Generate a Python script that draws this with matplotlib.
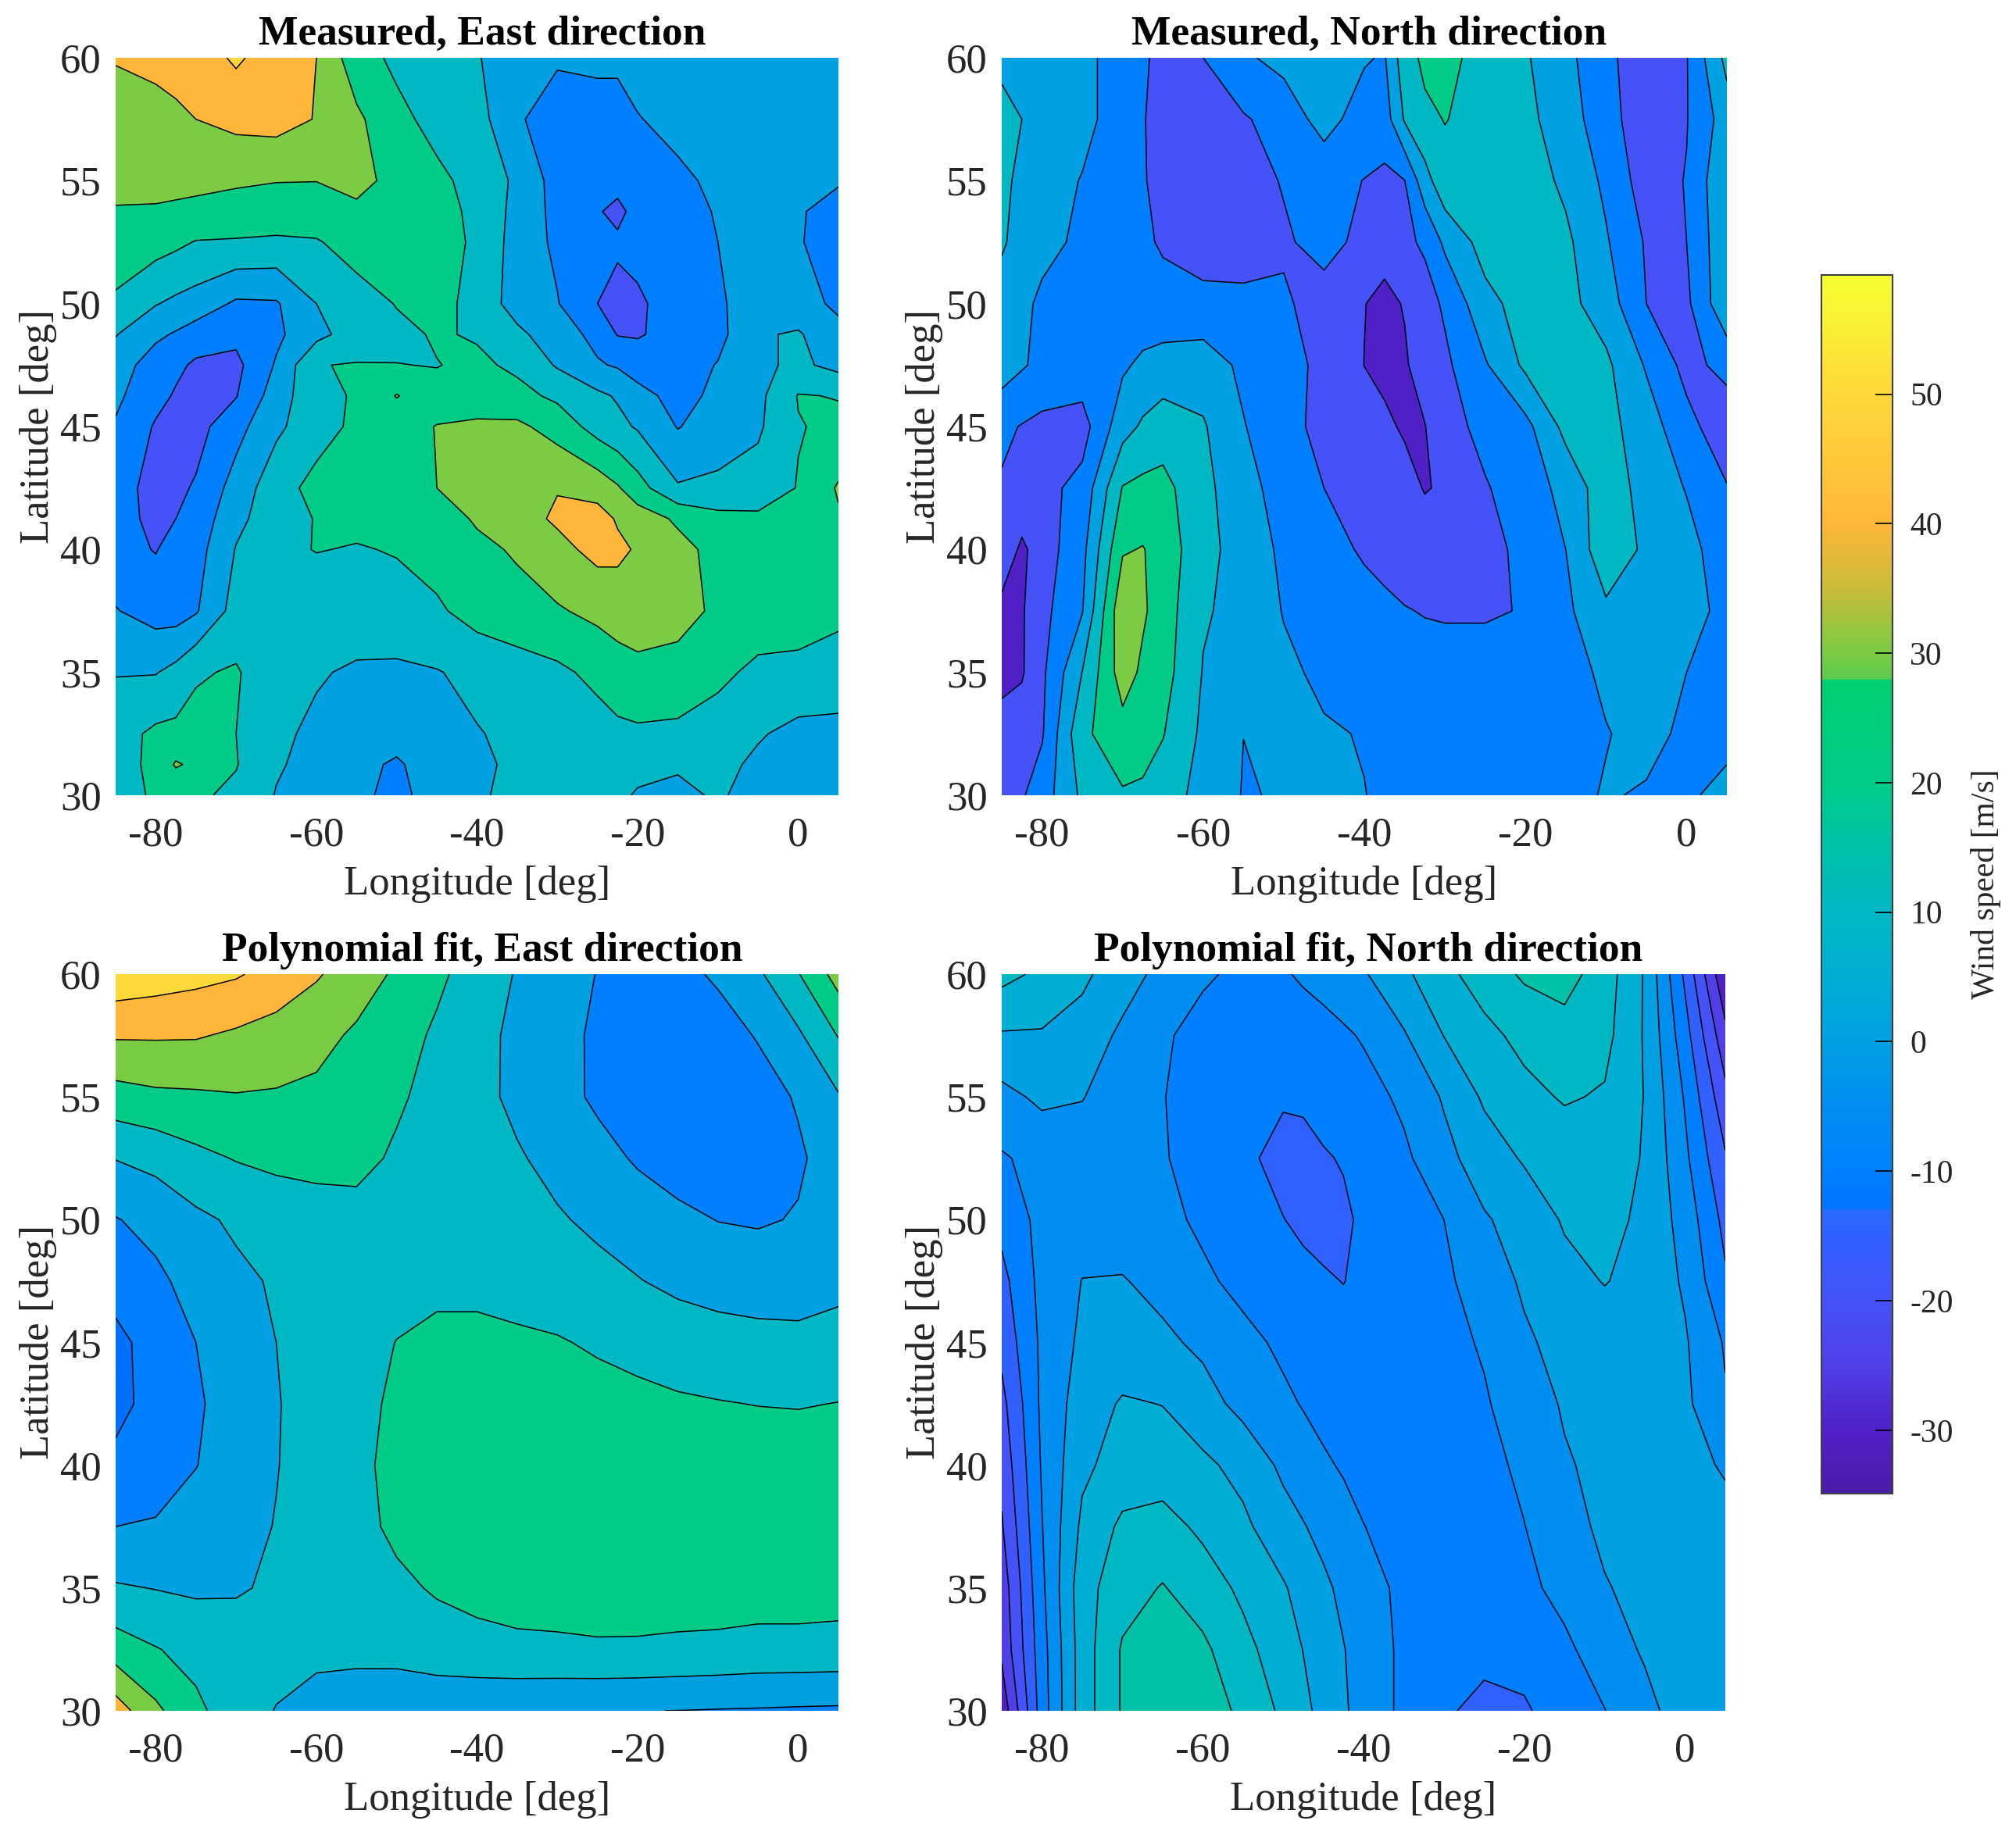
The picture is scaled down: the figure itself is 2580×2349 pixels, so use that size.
#!/usr/bin/env python3
"""Wind speed maps: measured and polynomial fit, East and North directions."""

from __future__ import annotations

import matplotlib

matplotlib.use("Agg")

import matplotlib.pyplot as plt
from matplotlib.cm import ScalarMappable
from matplotlib.colors import LinearSegmentedColormap, Normalize


WIDTH_PX = 2580
HEIGHT_PX = 2349
TEXT = "#262626"

LON_TICKS = [-80, -60, -40, -20, 0]
LAT_TICKS = [30, 35, 40, 45, 50, 55, 60]
CBAR_TICKS = [-30, -20, -10, 0, 10, 20, 30, 40, 50]
CBAR_MIN = -34.9
CBAR_MAX = 59.2

LEVELS_10 = [-35, -25, -15, -5, 5, 15, 25, 35, 45, 55]
LEVELS_5 = [-37.5, -32.5, -27.5, -22.5, -17.5, -12.5, -7.5, -2.5, 2.5, 7.5, 12.5, 17.5]

# colours, from the bottom up
CBAR_STOPS = [
    (-34.9, "#4A1CA8"), (-30, "#5020C8"), (-25, "#5040E8"), (-20, "#4452F8"),
    (-15, "#3060FF"), (-13.1, "#2A6CFF"), (-12.9, "#0074FF"), (-10, "#0080FF"),
    (-5, "#008FF0"), (0, "#00A0E2"), (5, "#00AED4"), (10, "#00B8C4"),
    (15, "#00C0A8"), (20, "#00CC88"), (27.9, "#00CF70"), (28.1, "#5CCB50"),
    (30, "#7ACB44"), (35, "#C8BC3A"), (40, "#FFB63A"), (45, "#FFC83A"),
    (50, "#FFD83A"), (59.2, "#F5FF30"),
]

# the fit's East panel stays blue inside its lowest contour
POLY_EAST_BANDS = ["#5020C8", "#0070FF", "#0080FF", "#00A0E2", "#00B8C4", "#00CC88", "#7ACB44", "#FFB63A", "#FFD83A"]

LONS_5 = [-85, -80, -75, -70, -65, -60, -55, -50, -45, -40, -35, -30, -25, -20, -15, -10, -5, 0, 5]
LATS_25 = [60, 57.5, 55, 52.5, 50, 47.5, 45, 42.5, 40, 37.5, 35, 32.5, 30]

EAST_LONS = [-85, -80, -77.5, -75, -70, -65, -60, -55, -50, -45, -40, -35, -30, -25, -22.5, -20, -15, -10, -5, 0, 5]
EAST_LATS = [60, 57.5, 55, 53.75, 52.5, 50, 48.75, 47.5, 46.25, 45, 42.5, 41.25, 40, 37.5, 35, 32.5, 31.25, 30]
MEASURED_EAST = [
    [36, 38, 39, 40, 46.5, 40, 35, 19, 13, 10, 6, -3.5, -4, -2, -2, -1, -1, -1, -1, -1, -1],
    [28, 31, 33, 35, 38, 39, 34.5, 27, 17.5, 12, 9, -4, -9, -11, -11, -5.5, -2, -1, -1, -1, -1],
    [29, 28, 27.5, 27, 26, 25.2, 25.1, 28, 22, 17, 12, 3, -9, -12, -13, -12, -7, -3, -1, -2, -4.5],
    [24, 24, 23.5, 23, 22, 22, 22, 23, 22, 19, 12.5, 2, -8, -14.5, -16.5, -13, -10, -4, -1, -4.5, -7],
    [22, 19, 17, 14.5, 14, 13, 14, 20, 21, 20, 13, 1, -7, -13, -14, -13, -11, -5, -1, -4.5, -8],
    [13, 5.5, 3, 1, -6.5, -6, 5, 10, 15.5, 19, 11, 1, -4.5, -15, -17, -16, -12, -7, 2, -1, -7],
    [5.5, -3, -6, -10, -12.5, -7, 2, 10, 12.5, 16, 14, 7, 0, -8, -15.5, -16, -11, -8, 4, 6, -2],
    [0, -10, -13, -16.5, -17.5, -4, 14.7, 15.5, 15.2, 14.7, 17, 13, 4, -4, -6, -9, -9.5, -4.5, 3, 7, 2],
    [-3, -12, -16, -19, -15.5, 0, 12, 16, 25.5, 18, 19, 18, 13, 7, 4, -2, -8, -3, 2.5, 15.5, 14.6],
    [-6, -16, -17.5, -18.5, -8.5, 3, 11, 17, 19, 25.5, 27, 27, 21, 11, 7.5, 4, -5.5, 0, 3.5, 14.5, 17],
    [-12, -17.5, -17, -14, -1, 11, 18, 20, 22, 25, 29, 32, 34.5, 31, 26, 19, 6, 7, 9, 15.5, 26],
    [-12, -17, -15, -11.5, 2.5, 10.5, 15.5, 17, 18.5, 21, 26, 31, 36.5, 39, 34, 30, 23.5, 18, 17, 17.5, 24],
    [-11.5, -15.5, -11, -9, 5.5, 13, 15.3, 14.5, 15.5, 19, 23, 26, 32, 38, 37, 34, 28, 22, 19, 18.5, 22],
    [-4.5, -9, -9.5, -6, 9, 9, 10, 11, 12, 13.5, 19, 22, 24, 27.5, 30, 31, 29, 23, 20, 18.5, 16],
    [4.5, 4.5, 8, 14, 16, 8, 6, 3.5, 3, 4.5, 7.5, 10, 13, 17.5, 20, 22, 21, 17, 13, 13, 13],
    [11, 17, 17.5, 18, 15, 7, 3, -0.5, -2, 1, 4.5, 7, 9, 11, 13, 13.5, 13, 11, 6, 2, 1],
    [10, 18, 26, 23, 15.5, 6, 2, -3, -6, -1, 3, 7, 8, 8, 7, 6.5, 6, 8, 3, 0, -1],
    [9, 17, 17, 16.5, 13, 4.5, 1, -3, -7.5, -1, 3.5, 8, 10, 8, 6, 4.5, 3, 6, 2, -0.5, -1],
]

NORTH_LONS = [-85, -82.5, -80, -75, -70, -67.5, -65, -60, -55, -50, -45, -40, -37.5, -35, -32.5, -30, -25, -20, -15, -10, -5, 0, 5]
MEASURED_NORTH = [
    [2, 1.5, 1, -2, -10, -14, -17, -15, -6.5, -2, -1, -4, -6, 11, 17, 18, 11, 6, -2, -13, -20, -15.5, 8],
    [9, 5, 1, -2, -10, -14.5, -18, -19, -16, -11, -1, -10, -10, 6, 13, 15.3, 12, 7, 1, -12.5, -19, -15.5, 0],
    [7, 3, -0.5, -5.5, -11, -14.5, -17, -19, -18, -14.5, -12, -15.2, -17, -15.2, 1, 12, 11, 10, 3, -7, -20, -14.5, 4.5],
    [6, 2, -2, -7, -11, -13.5, -16, -20, -20, -16, -12.5, -17, -22, -17, -13.5, -3, 9, 11, 7, -4, -16, -15, 3],
    [1.5, -2.5, -7, -10, -11, -11.5, -12, -12, -12.5, -14, -18, -24.8, -27, -24.5, -19, -13.5, 2, 9, 8, 0, -15, -17, 3],
    [0, -4, -7.5, -9, -6.5, -3, -1, 0, -7, -12, -17, -25.1, -27, -26, -21, -17, -6, 7, 10, 7, -6, -18, -12],
    [-13, -15.5, -17.5, -19, 1, 6.5, 10, 6, -4.5, -11.5, -18, -21, -23.5, -26, -25.3, -19, -12, -8, 8, 8, 0, -12, -21],
    [-16, -17, -18, -12, 15.5, 17.5, 18, 8, -2, -8.5, -15, -19, -20.5, -22, -25.5, -24, -15.8, -10, -2, 11, 1, -5.5, -14.5],
    [-18, -27, -20, -8, 24, 25.5, 21, 8, 1, -7, -12, -16, -18, -20, -20.5, -21, -20, -11, -5, 12, 3, -2, -10],
    [-28, -26, -18, -5.5, 33, 26.5, 20, 6, 2, -5.5, -9, -12, -13, -14.5, -15.5, -16, -16, -14.5, -7, 3, 3, -1, -8],
    [-28, -26, -17, 5.2, 30, 23, 19, 4.5, 0, -3, -7, -10, -10.5, -11, -11, -11, -11, -11, -9, -3, 0, -5, -9],
    [-21, -20, -16, 13, 21, 20, 15.5, 3, -4.95, -3, -4, -5.5, -7, -8, -8.5, -9, -9, -9, -8, -5.5, -2, -7, -9],
    [-19, -16, -10, 7, 14, 13, 10, 1.5, -5.5, -4.4, -3, -4.8, -6.5, -8, -8.5, -9, -9, -9, -8, -4.2, -6, -7, -1],
]

POLY_EAST = [
    [52, 50, 48, 46, 41.5, 36, 30, 23.5, 17, 10.5, 4.3, -0.5, -5.3, -8, -7, -4, 3.5, 14.5, 29],
    [36, 36, 35.8, 33.5, 31, 28, 23.5, 19, 13.5, 8.5, 2.5, -2, -6.5, -9.5, -10, -8, -4.5, 3.5, 15.5],
    [21, 23, 23.5, 24.4, 24, 23, 20.5, 16.5, 11.5, 8, 2.7, -1.8, -6.5, -9.5, -10.5, -10, -8, -4.3, 4.2],
    [5.3, 8, 12.5, 15.5, 17.5, 18.5, 18, 13.5, 11, 8.5, 6, 2, -2, -6, -9, -10.5, -10, -6, -1.5],
    [-5.5, -2, 3, 6.5, 8.5, 10, 11.5, 12, 11.5, 10.5, 8.5, 6, 3, -0.5, -3, -5.2, -5.8, -4.5, -1.5],
    [-12, -7, -1.5, 3, 6, 8, 10, 11.5, 12.5, 12.5, 11.5, 10, 8, 5.5, 2.5, 0.5, -0.5, -0.5, 2.5],
    [-17, -12, -5, 1, 5, 8, 11.5, 15.2, 17.5, 17.5, 16.5, 15.7, 13.8, 12.5, 11, 9.5, 8.5, 8, 8.5],
    [-17.5, -12, -6.5, 0, 4.5, 8.5, 12.5, 16.5, 19, 20, 20, 19.5, 18.5, 17, 16, 15.4, 14.8, 14.5, 15.2],
    [-13, -10.5, -5.3, 0.5, 4.7, 8.5, 12.5, 18, 20.5, 22, 22.5, 22.5, 22, 21.5, 21, 20.5, 20, 20, 20],
    [-5, -4, 0, 2.5, 5.3, 9, 12, 17, 20, 22, 23, 23, 23, 23, 22.5, 22, 21.5, 21, 20.5],
    [6, 4.7, 3.5, 4, 6.5, 9, 11, 13, 16, 18, 19.5, 20, 20.5, 20.5, 20, 20, 19.5, 19.5, 19],
    [20, 15.5, 12, 10, 8.5, 7.5, 7.5, 8, 10.5, 11.8, 12.7, 13, 13.6, 13.5, 13, 12.6, 11.8, 11.8, 11.5],
    [40, 27, 17, 10, 4.6, 1, -0.5, -1.5, -2.5, -3, -3.5, -4, -4.5, -4.8, -5.1, -5.5, -5.8, -6.2, -6.5],
]

POLY_NORTH_LONS = [-85, -80, -75, -70, -65, -60, -55, -50, -47.5, -45, -42.5, -40, -35, -30, -25, -20, -15, -10, -5, 0, 5]
POLY_NORTH = [
    [9, 6.5, 3.5, -0.2, -4, -6.5, -9, -8, -6.8, -5.5, -4.2, -3, 1.5, 6, 10, 13.2, 14.5, 10, 2, -13.5, -32],
    [2, 2, 0.5, -3.5, -6.5, -10, -11, -10.5, -10, -9.5, -8.3, -7, -3, 2.6, 6, 9, 10.5, 9, 2, -10.5, -26],
    [-4, -1.5, -2.3, -5, -7.2, -11, -12, -12, -11.5, -10.5, -10, -9.5, -6.5, -2, 3.2, 6, 8, 7, 2.3, -8, -21],
    [-8, -6, -5, -5.5, -7, -10, -11.5, -14, -14.5, -13, -12.1, -11, -8.5, -4, 0, 3, 4.5, 4.5, 2.2, -6.5, -17],
    [-11, -6, -4.5, -5, -6, -8.5, -10, -12.4, -13.4, -14, -13.5, -11.5, -9.5, -7.5, -3, -0.5, 3, 4, 1.5, -4.5, -14],
    [-14, -6, -2.4, -2.2, -4, -6.5, -9, -10.5, -11.3, -12, -12.6, -11.5, -10, -8.5, -5, -1.8, 1, 2.7, 1, -3.2, -11.8],
    [-16, -6.5, -1.5, -0.5, -1.5, -3.5, -6, -8.5, -9.6, -10.5, -10.9, -11, -10, -9, -7, -3.2, -1, 0.2, 0, -2, -8],
    [-19, -6.5, 0, 3, 2.4, -0.5, -4, -6.5, -7.8, -9, -9.8, -10.5, -10.3, -9.5, -8, -5, -2, -0.5, 0, -1.5, -7],
    [-21, -7, 1.5, 4.5, 5, 3.5, 1, -3.5, -5.2, -6.8, -8, -9, -9.8, -9.8, -9, -6.5, -3, -1.2, -0.5, -1, -3],
    [-23, -7.7, 3.5, 8.5, 9.3, 6.5, 3.5, -0.5, -2.2, -4, -5.7, -7.4, -9.5, -9.8, -9.8, -7.6, -4.2, -1.6, -0.8, -0.8, -1],
    [-25.5, -8.5, 5.5, 10.5, 12.8, 10, 6.5, 3, 0.7, -1.5, -3.6, -5.7, -8.5, -9.7, -9.8, -8.7, -6, -2.8, -1.2, -0.8, -0.8],
    [-26.5, -9.5, 5, 13, 15, 13.5, 9, 4.8, 2.4, 0, -2.3, -4.5, -8.5, -10.5, -11.5, -11, -8.5, -5, -1.9, -0.5, 0],
    [-31, -10, 5, 13, 15.5, 15, 11.5, 6.5, 3.7, 1, -1.8, -4.5, -8.5, -12, -13.5, -13, -10.5, -7.6, -4, 0, 0.5],
]


def add_axes_px(fig: plt.Figure, left: float, top: float, right: float, bottom: float) -> plt.Axes:
    """Add axes placed by reference pixel edges."""
    return fig.add_axes(
        [
            left / WIDTH_PX,
            1 - bottom / HEIGHT_PX,
            (right - left) / WIDTH_PX,
            (bottom - top) / HEIGHT_PX,
        ]
    )


def draw_panel(ax, lons, lats, speeds, levels, title, fill) -> None:
    """Draw one filled contour map with its black contour lines."""
    ax.contourf(lons, lats, speeds, levels=levels, **fill)
    ax.contour(lons, lats, speeds, levels=levels, colors="black", linewidths=1.1, linestyles="solid")
    ax.set_xlim(-85, 5)
    ax.set_ylim(30, 60)
    ax.set_xticks(LON_TICKS)
    ax.set_yticks(LAT_TICKS)
    ax.tick_params(length=0, labelsize=38, labelcolor=TEXT)
    ax.tick_params(axis="x", pad=20)
    ax.tick_params(axis="y", pad=13)
    for spine in ax.spines.values():
        spine.set_visible(False)
    ax.set_xlabel("Longitude [deg]", fontsize=38, color=TEXT, labelpad=10)
    ax.set_ylabel("Latitude [deg]", fontsize=38, color=TEXT, labelpad=3)
    ax.set_title(title, fontsize=38.5, fontweight="bold", color="black", pad=12, x=0.507)


def main() -> None:
    plt.rcParams["font.family"] = ["Liberation Serif", "DejaVu Serif"]
    plt.rcParams["axes.unicode_minus"] = False

    span = CBAR_MAX - CBAR_MIN
    stops = [((value - CBAR_MIN) / span, color) for value, color in CBAR_STOPS]
    cmap = LinearSegmentedColormap.from_list("wind", stops, N=512)
    norm = Normalize(CBAR_MIN, CBAR_MAX)
    scaled = {"cmap": cmap, "norm": norm}

    fig = plt.figure(figsize=(WIDTH_PX / 100, HEIGHT_PX / 100), dpi=100)
    fig.patch.set_facecolor("white")

    draw_panel(
        add_axes_px(fig, 148, 74, 1073, 1018),
        EAST_LONS, EAST_LATS, MEASURED_EAST, LEVELS_10,
        "Measured, East direction", scaled,
    )
    draw_panel(
        add_axes_px(fig, 1282, 74, 2210, 1018),
        NORTH_LONS, LATS_25, MEASURED_NORTH, LEVELS_10,
        "Measured, North direction", scaled,
    )
    draw_panel(
        add_axes_px(fig, 148, 1247, 1073, 2190),
        LONS_5, LATS_25, POLY_EAST, LEVELS_10,
        "Polynomial fit, East direction", {"colors": POLY_EAST_BANDS},
    )
    draw_panel(
        add_axes_px(fig, 1282, 1247, 2208, 2190),
        POLY_NORTH_LONS, LATS_25, POLY_NORTH, LEVELS_5,
        "Polynomial fit, North direction", scaled,
    )

    cax = add_axes_px(fig, 2331, 352, 2422, 1912)
    cbar = fig.colorbar(ScalarMappable(norm=norm, cmap=cmap), cax=cax)
    cbar.set_ticks(CBAR_TICKS)
    cbar.ax.tick_params(direction="in", length=16, width=1.2, labelsize=30, labelcolor=TEXT, pad=16)
    cbar.outline.set_linewidth(1.5)
    cbar.outline.set_edgecolor("#404040")
    cbar.set_label("Wind speed [m/s]", fontsize=30, color=TEXT, labelpad=16)

    fig.savefig("out.png", dpi=100)
    plt.close(fig)


if __name__ == "__main__":
    main()
